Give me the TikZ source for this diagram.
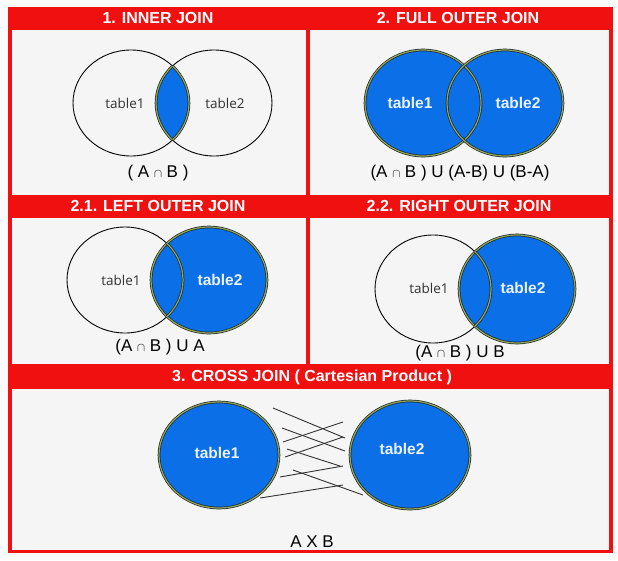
\documentclass[tikz,border=0pt]{standalone}
\usepackage{fontspec}
\setmainfont{Liberation Sans}
\newfontfamily\tablefont{Open Sans}
\usetikzlibrary{positioning}
\definecolor{joinred}{HTML}{F01010}
\definecolor{panelbg}{HTML}{F5F5F5}
\definecolor{pagebg}{HTML}{FBFBFB}
\definecolor{setblue}{HTML}{0B6FE8}
\definecolor{setgreen}{HTML}{8AA860}
\definecolor{labelwhite}{HTML}{EAF2FF}
\newcommand{\capsym}{{\fontsize{12}{12}\selectfont$\cap$}}
\begin{document}
\begin{tikzpicture}[x=1pt, y=-1pt,
  jointitle/.style={text=white, font=\bfseries\fontsize{16}{16}\selectfont},
  plainlabel/.style={text=black!80, font=\tablefont\fontsize{13.5}{13.5}\selectfont},
  bluelabel/.style={text=labelwhite, font=\bfseries\fontsize{15.5}{15.5}\selectfont},
  formula/.style={text=black, font=\fontsize{17}{17}\selectfont},
  venn/.style={x radius=58, y radius=53},
  plainset/.style={draw=black, line width=0.9pt},
  blueset/.style={draw=black!85, line width=0.7pt, double=setgreen, double distance=1.2pt},
  crossline/.style={draw=black!80, line width=0.9pt}]
  \useasboundingbox (0,0) rectangle (618,560);
  \fill[pagebg] (0,0) rectangle (618,560);
  \fill[joinred] (8,7) rectangle (613,553);
  \foreach \x/\y/\xx/\yy in {12/30/306/195, 310/30/609/195, 12/218/306/364, 310/218/609/364, 12/389/609/550}
    \fill[panelbg] (\x,\y) rectangle (\xx,\yy);
  % titles
  \node[jointitle] (innertitle) at (158,18) {1. INNER JOIN};
  \node[jointitle] (fulltitle) at (458,18) {2. FULL OUTER JOIN};
  \node[jointitle] (lefttitle) at (158,206) {2.1. LEFT OUTER JOIN};
  \node[jointitle] (righttitle) at (459,206) {2.2. RIGHT OUTER JOIN};
  \node[jointitle] (crosstitle) at (312,377) {3. CROSS JOIN ( Cartesian Product )};
  % 1. inner join
  \draw[plainset] (131,103) ellipse[venn];
  \draw[plainset] (214,103) ellipse[venn];
  \begin{scope}
    \clip (131,103) ellipse[venn];
    \fill[setblue] (214,103) ellipse[venn];
    \draw[blueset] (214,103) ellipse[venn];
  \end{scope}
  \begin{scope}
    \clip (214,103) ellipse[venn];
    \draw[blueset] (131,103) ellipse[venn];
  \end{scope}
  \node[plainlabel] (innerA) at (125,103) {table1};
  \node[plainlabel] (innerB) at (225,103) {table2};
  \node[formula] (innerF) at (158,173) {( A \capsym\ B )};
  % 2. full outer join
  \fill[setblue] (423,103) ellipse[venn];
  \fill[setblue] (505,103) ellipse[venn];
  \draw[blueset] (423,103) ellipse[venn];
  \draw[blueset] (505,103) ellipse[venn];
  \node[bluelabel] (fullA) at (410,103) {table1};
  \node[bluelabel] (fullB) at (518,103) {table2};
  \node[formula] (fullF) at (460,173) {(A \capsym\ B ) U (A-B) U (B-A)};
  % 2.1. left outer join
  \draw[plainset] (125,280) ellipse[venn];
  \fill[setblue] (209,280) ellipse[venn];
  \draw[blueset] (209,280) ellipse[venn];
  \begin{scope}
    \clip (209,280) ellipse[venn];
    \draw[blueset] (125,280) ellipse[venn];
  \end{scope}
  \node[plainlabel] (leftA) at (121,280) {table1};
  \node[bluelabel] (leftB) at (220,280) {table2};
  \node[formula] (leftF) at (160,347) {(A \capsym\ B ) U A};
  % 2.2. right outer join
  \draw[plainset] (433,289) ellipse[venn, y radius=54];
  \fill[setblue] (517,289) ellipse[venn, y radius=54];
  \draw[blueset] (517,289) ellipse[venn, y radius=54];
  \begin{scope}
    \clip (517,289) ellipse[venn, y radius=54];
    \draw[blueset] (433,289) ellipse[venn, y radius=54];
  \end{scope}
  \node[plainlabel] (rightA) at (429,288) {table1};
  \node[bluelabel] (rightB) at (523,288) {table2};
  \node[formula] (rightF) at (460,353) {(A \capsym\ B ) U B};
  % 3. cross join
  \fill[setblue] (219,455) ellipse[x radius=60, y radius=53];
  \fill[setblue] (410,455) ellipse[x radius=60, y radius=54];
  \draw[blueset] (219,455) ellipse[x radius=60, y radius=53];
  \draw[blueset] (410,455) ellipse[x radius=60, y radius=54];
  \foreach \a/\b/\c/\d in {273/408/345/438, 282/428/345/451, 287/449/340/466, 293/470/363/495,
                           283/442/343/422, 285/457/343/437, 280/477/343/466, 260/498/343/485}
    \draw[crossline] (\a,\b) -- (\c,\d);
  \node[bluelabel] (crossA) at (217,453) {table1};
  \node[bluelabel] (crossB) at (402,449) {table2};
  \node[formula] (crossF) at (312,542) {A X B};
\end{tikzpicture}
\end{document}
